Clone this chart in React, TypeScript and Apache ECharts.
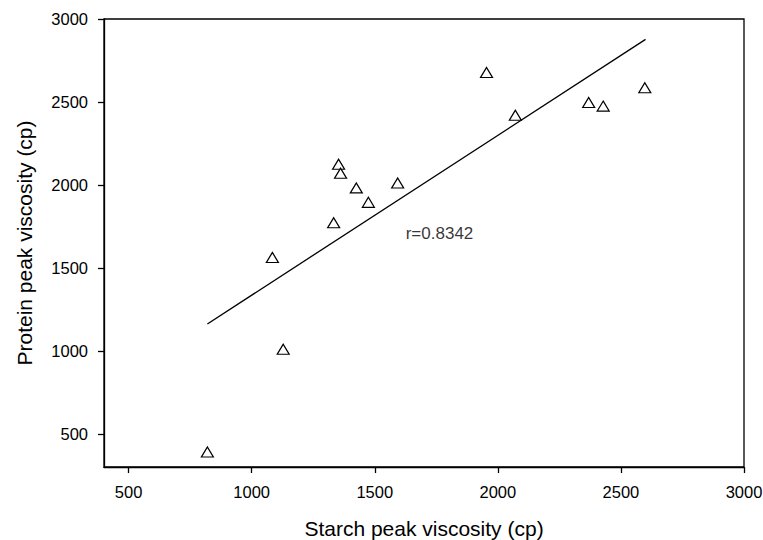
import React, { useEffect, useRef } from "react";
import * as echarts from "echarts";

const starch = [820, 1128, 1084, 1333, 1353, 1361, 1425, 1474, 1593, 1954, 2071, 2369, 2428, 2597];
const protein = [390, 1010, 1563, 1772, 2125, 2070, 1982, 1895, 2012, 2678, 2420, 2497, 2475, 2586];
const fitX = [820, 2600];
const fitY = [1162, 2877];
const xTicks = [500, 1000, 1500, 2000, 2500, 3000];
const yTicks = [500, 1000, 1500, 2000, 2500, 3000];
const annotation = "r=0.8342";
const annotationAt = [1763, 1705];

export default function App() {
  const ref = useRef<HTMLDivElement>(null);
  useEffect(() => {
    const chart = echarts.init(ref.current!, null, { renderer: "svg" });
    const font = "Liberation Sans, Arial, sans-serif";
    chart.setOption({
      animation: false,
      backgroundColor: "#fff",
      grid: {
        left: 104,
        right: 19,
        top: 19,
        bottom: 73,
        outerBoundsMode: "none",
        containLabel: false,
        show: true,
        borderColor: "#000",
        borderWidth: 1.3,
        backgroundColor: "transparent",
      },
      xAxis: {
        type: "value",
        min: 400,
        max: 3000,
        name: "Starch peak viscosity (cp)",
        nameLocation: "middle",
        nameGap: 51,
        nameTextStyle: { fontFamily: font, fontSize: 21, color: "#000" },
        axisLine: { show: true, onZero: false, lineStyle: { color: "#000", width: 1.3 } },
        axisTick: { show: true, inside: false, length: 6, lineStyle: { color: "#000", width: 1.3 },
          customValues: xTicks },
        axisLabel: { margin: 16, fontFamily: font, fontSize: 16.5, color: "#000",
          customValues: xTicks, formatter: (v: number) => String(v) },
        splitLine: { show: false },
      },
      yAxis: {
        type: "value",
        min: 300,
        max: 3000,
        name: "Protein peak viscosity (cp)",
        nameLocation: "middle",
        nameGap: 69,
        nameTextStyle: { fontFamily: font, fontSize: 21, color: "#000" },
        axisLine: { show: true, onZero: false, lineStyle: { color: "#000", width: 1.3 } },
        axisTick: { show: true, inside: false, length: 6, lineStyle: { color: "#000", width: 1.3 },
          customValues: yTicks },
        axisLabel: { margin: 16, fontFamily: font, fontSize: 16.5, color: "#000",
          customValues: yTicks, formatter: (v: number) => String(v) },
        splitLine: { show: false },
      },
      series: [
        {
          type: "line",
          data: fitX.map((x, i) => [x, fitY[i]]),
          symbol: "none",
          lineStyle: { color: "#000", width: 1.3 },
          silent: true,
          z: 2,
        },
        {
          type: "scatter",
          data: starch.map((x, i) => [x, protein[i]]),
          symbol: "triangle",
          symbolSize: [12, 10],
          itemStyle: { color: "#fff", borderColor: "#000", borderWidth: 1.2, opacity: 1 },
          z: 3,
        },
        {
          type: "scatter",
          data: [[annotationAt[0], annotationAt[1]]],
          symbolSize: 0,
          silent: true,
          label: {
            show: true,
            position: "inside",
            formatter: annotation,
            fontFamily: font,
            fontSize: 17,
            color: "#000",
          },
        },
      ],
    });
    return () => chart.dispose();
  }, []);
  return <div ref={ref} style={{ width: 763, height: 540, position: "absolute", left: 0, top: 0 }} />;
}
